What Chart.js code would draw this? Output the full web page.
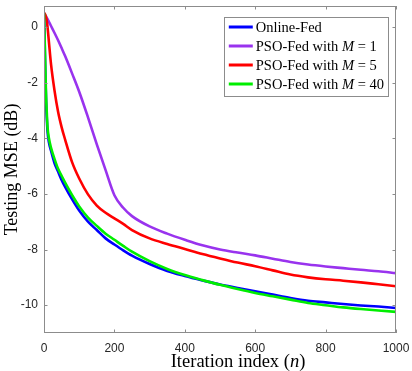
<!DOCTYPE html>
<html>
<head>
<meta charset="utf-8">
<script src="https://cdn.jsdelivr.net/npm/chart.js@4.4.0/dist/chart.umd.min.js"></script>
<style>
  html, body { margin: 0; padding: 0; background: #fff; }
  #wrap { width: 412px; height: 371px; position: relative; }
</style>
</head>
<body>
<div id="wrap"><canvas id="mse"></canvas></div>
<script>
// iteration index n (denser at the start, where the curves fall fast)
const iterations = [0, 2, 4, 6, 8, 10, 14, 20, 30, 40, 50, 60, 80, 100, 125, 150, 175, 200, 225, 250,
                    300, 350, 400, 450, 500, 550, 600, 650, 700, 750, 800, 850, 900, 950, 1000];

// testing MSE in dB
const onlineFed = [0.5, -0.6, -1.8, -2.7, -3.3, -3.75, -4.15, -4.45, -4.9, -5.2, -5.5, -5.75, -6.2, -6.6, -7.0, -7.3, -7.6, -7.82, -8.03, -8.22,
                   -8.52, -8.77, -8.95, -9.11, -9.26, -9.38, -9.5, -9.62, -9.74, -9.84, -9.9, -9.96, -10.01, -10.05, -10.1];
const psoM1     = [0.5, 0.46, 0.41, 0.37, 0.32, 0.28, 0.18, 0.03, -0.22, -0.48, -0.76, -1.05, -1.68, -2.33, -3.25, -4.22, -5.15, -6.05, -6.5, -6.8,
                   -7.17, -7.43, -7.65, -7.85, -8.0, -8.11, -8.21, -8.33, -8.45, -8.54, -8.61, -8.67, -8.73, -8.78, -8.85];
const psoM5     = [0.5, 0.47, 0.42, 0.34, 0.2, 0.0, -0.55, -1.35, -2.3, -3.05, -3.6, -4.05, -4.87, -5.45, -6.02, -6.42, -6.68, -6.88, -7.08, -7.3,
                   -7.6, -7.8, -7.98, -8.16, -8.32, -8.47, -8.6, -8.75, -8.9, -9.0, -9.07, -9.12, -9.18, -9.25, -9.32];
const psoM40    = [0.5, -0.5, -1.6, -2.5, -3.1, -3.6, -4.0, -4.35, -4.75, -5.1, -5.35, -5.6, -6.05, -6.45, -6.85, -7.15, -7.43, -7.65, -7.87, -8.08,
                   -8.42, -8.7, -8.92, -9.1, -9.27, -9.42, -9.56, -9.68, -9.8, -9.92, -10.0, -10.08, -10.14, -10.19, -10.24];

const xTicks = [0, 200, 400, 600, 800, 1000];
const yTicks = [-10, -8, -6, -4, -2, 0];

// $...$ marks italic (math) parts
const seriesLabels = ['Online-Fed', 'PSO-Fed with $M$ = 1', 'PSO-Fed with $M$ = 5', 'PSO-Fed with $M$ = 40'];
const seriesColors = ['#0000ff', '#9933ee', '#ff0000', '#00ee00'];
const xTitle = 'Iteration index ($n$)';
const yTitle = 'Testing MSE (dB)';

const SERIF = '"Liberation Serif", "DejaVu Serif", serif';
const SANS = '"Liberation Sans", Arial, sans-serif';

function toPoints(ys) {
  return iterations.map((n, i) => ({ x: n, y: ys[i] }));
}

// draws text with $..$ parts in italic, returns width
function richText(ctx, str, x, y, size, measureOnly) {
  const parts = str.split('$');
  let cx = x;
  parts.forEach((p, i) => {
    ctx.font = (i % 2 ? 'italic ' : '') + size + 'px ' + SERIF;
    if (!measureOnly) ctx.fillText(p, cx, y);
    cx += ctx.measureText(p).width;
  });
  return cx - x;
}

// no extra room for the end tick labels, so the plot box stays put
function noPad(s) {
  s.paddingTop = 0; s.paddingBottom = 0; s.paddingLeft = 0; s.paddingRight = 0;
}

const framePlugin = {
  id: 'frame',
  afterDatasetsDraw(chart) {
    const { ctx, chartArea: a, scales: { x, y } } = chart;
    ctx.save();
    ctx.strokeStyle = '#8c8c8c';
    ctx.lineWidth = 1;
    ctx.strokeRect(a.left + 0.5, a.top + 0.5, a.right - a.left - 1, a.bottom - a.top - 1);

    // inward ticks on all four sides
    const tl = 3.5;
    ctx.beginPath();
    xTicks.forEach(v => {
      const px = Math.round(x.getPixelForValue(v)) + 0.5;
      ctx.moveTo(px, a.bottom); ctx.lineTo(px, a.bottom - tl);
      ctx.moveTo(px, a.top); ctx.lineTo(px, a.top + tl);
    });
    yTicks.forEach(v => {
      const py = Math.round(y.getPixelForValue(v)) + 0.5;
      ctx.moveTo(a.left, py); ctx.lineTo(a.left + tl, py);
      ctx.moveTo(a.right, py); ctx.lineTo(a.right - tl, py);
    });
    ctx.stroke();

    // legend box, top right inside the axes
    const size = 14.5, rowH = 19, lineW = 24;
    ctx.textBaseline = 'middle';
    const textW = Math.max(...seriesLabels.map(s => richText(ctx, s, 0, 0, size, true)));
    const boxW = textW + lineW + 12;
    const boxH = rowH * seriesLabels.length + 3;
    const bx = a.right - 8 - boxW, by = a.top + 11;
    ctx.fillStyle = '#fff';
    ctx.fillRect(bx, by, boxW, boxH);
    ctx.strokeStyle = '#8c8c8c';
    ctx.strokeRect(Math.round(bx) + 0.5, Math.round(by) + 0.5, Math.round(boxW), Math.round(boxH));
    seriesLabels.forEach((s, i) => {
      const ry = by + 10 + i * rowH;
      ctx.strokeStyle = seriesColors[i];
      ctx.lineWidth = 3;
      ctx.beginPath();
      ctx.moveTo(bx + 5, ry); ctx.lineTo(bx + 5 + lineW, ry);
      ctx.stroke();
      ctx.fillStyle = '#000';
      richText(ctx, s, bx + lineW + 8, ry + 1, size, false);
    });
    ctx.restore();
  },
  afterDraw(chart) {
    const { ctx, chartArea: a } = chart;
    ctx.save();
    ctx.fillStyle = '#000';
    ctx.textBaseline = 'middle';
    const xs = 18.5;
    const w = richText(ctx, xTitle, 0, 0, xs, true);
    richText(ctx, xTitle, (a.left + a.right) / 2 + 18 - w / 2, 362, xs, false);
    ctx.translate(12, (a.top + a.bottom) / 2);
    ctx.rotate(-Math.PI / 2);
    ctx.textAlign = 'center';
    ctx.font = '18px ' + SERIF;
    ctx.fillText(yTitle, 0, 0);
    ctx.restore();
  }
};

const datasets = [onlineFed, psoM1, psoM5, psoM40].map((ys, i) => ({
  label: seriesLabels[i].replace(/\$/g, ''),
  data: toPoints(ys),
  borderColor: seriesColors[i],
  borderWidth: 2.6,
  pointRadius: 0,
  cubicInterpolationMode: 'monotone',
  fill: false,
  order: 4 - i,   // later series on top, like the original plot order
}));

new Chart(document.getElementById('mse'), {
  type: 'line',
  data: { datasets },
  options: {
    responsive: true,
    maintainAspectRatio: false,
    animation: false,
    layout: { autoPadding: false, padding: { top: 6, right: 16, left: 0, bottom: 0 } },
    plugins: { legend: { display: false }, tooltip: { enabled: false } },
    scales: {
      x: {
        type: 'linear', min: 0, max: 1000,
        afterBuildTicks: s => { s.ticks = xTicks.map(v => ({ value: v })); },
        afterFit: s => { s.height = 38; noPad(s); },
        grid: { display: false, drawTicks: false },
        border: { display: false },
        ticks: { font: { family: SANS, size: 12 }, color: '#262626', padding: 8, maxRotation: 0,
                 callback: v => String(v) }
      },
      y: {
        type: 'linear', min: -11, max: 0.75,
        afterBuildTicks: s => { s.ticks = yTicks.map(v => ({ value: v })); },
        afterFit: s => { s.width = 44; noPad(s); },
        grid: { display: false, drawTicks: false },
        border: { display: false },
        ticks: { font: { family: SANS, size: 12 }, color: '#262626', padding: 6,
                 callback: v => String(v) }
      }
    }
  },
  plugins: [framePlugin]
});
</script>
</body>
</html>
